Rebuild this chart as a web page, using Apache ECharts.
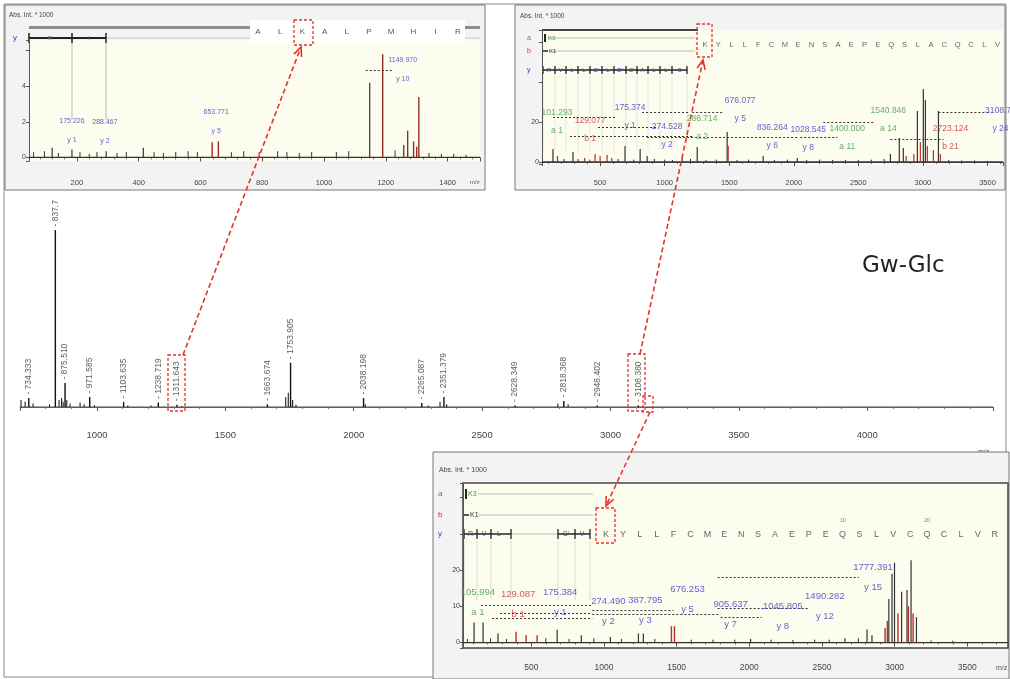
<!DOCTYPE html>
<html><head><meta charset="utf-8">
<script src="https://cdn.jsdelivr.net/npm/echarts@6/dist/echarts.min.js"></script>
<style>html,body{margin:0;padding:0;background:#fff}#c{width:1010px;height:679px}</style>
</head><body><div id="c"></div>
<script>
// ---------------- DATA ----------------
// Main MS spectrum: [m/z, relative intensity, label]
var mainLabeled = [
  [734.333, 5, '734.333'], [837.7, 100, '837.7'], [875.51, 13.5, '875.510'], [971.585, 5.6, '971.585'],
  [1103.635, 2.8, '1103.635'], [1238.719, 2.5, '1238.719'], [1311.643, 1.2, '1311.643'], [1663.674, 1.5, '1663.674'],
  [1753.905, 25, '1753.905'], [2038.198, 5, '2038.198'], [2265.087, 2.2, '2265.087'], [2351.379, 5.6, '2351.379'],
  [2628.349, 0.8, '2628.349'], [2818.368, 3.4, '2818.368'], [2948.402, 0.8, '2948.402'], [3108.38, 0.8, '3108.380']
];
var mainOther = [
  [704, 4], [720, 3], [751, 2], [815, 1.5], [852, 4], [862, 5], [868, 3], [882, 4], [895, 2], [934, 2.5],
  [950, 1.5], [990, 1], [1120, 0.8], [1210, 0.8], [1330, 0.6], [1735, 5.6], [1745, 8], [1762, 4], [1775, 1.2],
  [2045, 1.5], [2290, 0.8], [2336, 3], [2362, 1.5], [2795, 2], [2835, 1.5]
];
var mainBase = [[700, 0], [4490, 0]];

// Top-left MS/MS (ALKALPMHIR)
var tlBlack = [[120, 0.55], [184, 0.45], [295, 0.35], [415, 0.55], [1148, 4.2], [1271, 1.5]];
var tlRed = [[638, 0.85], [658, 0.9], [1190, 5.8], [1258, 0.7], [1290, 0.9], [1307, 3.4], [1300, 0.6]];
var tlNoise = [[60, 0.3], [95, 0.35], [140, 0.25], [210, 0.3], [240, 0.2], [265, 0.3], [330, 0.25], [360, 0.3],
  [450, 0.3], [480, 0.25], [520, 0.3], [560, 0.35], [590, 0.3], [700, 0.3], [740, 0.35], [790, 0.3], [850, 0.35],
  [880, 0.3], [920, 0.25], [960, 0.3], [1040, 0.3], [1080, 0.35], [1230, 0.4], [1340, 0.25], [1380, 0.2], [1420, 0.2], [1460, 0.15]];
var tlBase = [[45, 0], [1505, 0]];
// annotations: [m/z, y, value text, ion, ion type]
var tlAnnot = [[184, 1.5, '175.226', 'y 1', 'y'], [291, 1.45, '288.467', 'y 2', 'y'],
  [651, 2.0, '653.771', 'y 5', 'y'], [1255, 4.95, '1149.970', 'y 10', 'y']];
var tlDots = [[1135, 1222, 4.9]];

// Top-right MS/MS
var trBlack = [[135, 6.5], [290, 5], [693, 8], [810, 6.5], [864, 3], [1135, 2], [1252, 7.5], [1484, 15], [1763, 3],
  [2027, 2], [2748, 4], [2817, 12], [2848, 7], [2957, 25.5], [3003, 36.5], [3019, 31], [3120, 25.5]];
var trRed = [[170, 3], [380, 2], [461, 4], [500, 3], [554, 3.5], [590, 2], [1492, 8], [2870, 3], [2930, 4],
  [2980, 10], [3034, 8], [3081, 6], [3135, 4]];
var trNoise = [[220, 1.5], [330, 1.5], [420, 1.2], [640, 1.5], [760, 1.2], [920, 1.5], [1000, 1.2], [1060, 1],
  [1200, 1.5], [1320, 1], [1400, 1.2], [1560, 1], [1650, 1.2], [1850, 1], [1950, 1.2], [2100, 1], [2200, 1.2],
  [2300, 1], [2400, 1], [2500, 1], [2600, 1.2], [2700, 1.5], [3200, 1], [3300, 0.8], [3400, 0.8], [3500, 0.6]];
var trBase = [[50, 0], [3620, 0]];
var trAnnot = [[166, 20, '101.293', 'a 1', 'a'], [422, 16, '129.077', 'b 1', 'b'], [732, 22.5, '175.374', 'y 1', 'y'],
  [1019, 13, '274.528', 'y 2', 'y'], [1290, 17, '286.714', 'a 2', 'a'], [1585, 26, '676.077', 'y 5', 'y'],
  [1833, 12.5, '836.264', 'y 6', 'y'], [2112, 11.5, '1028.545', 'y 8', 'y'], [2414, 12, '1400.000', 'a 11', 'a'],
  [2732, 21, '1540.846', 'a 14', 'a'], [3213, 12, '2723.124', 'b 21', 'b'], [3600, 21, '3108.76', 'y 24', 'y']];
var trDots = [[135, 631, 22.5], [825, 1197, 25], [484, 941, 17.5], [267, 1213, 13], [864, 2027, 12.5],
  [2228, 2616, 20], [2748, 3159, 11.5], [3120, 3523, 25], [2050, 2337, 12.5], [1213, 1453, 25]];

// Bottom-right MS/MS
var brBlack = [[106, 5.5], [168, 5.5], [271, 2.5], [678, 3.5], [844, 2], [1044, 1.5], [1237, 2.5], [1271, 2.5],
  [2009, 1], [2658, 1.2], [2810, 3.6], [2844, 2], [2960, 12], [2982, 19], [2999, 22], [3048, 14], [3085, 14.5],
  [3113, 22.7], [3150, 7]];
var brRed = [[395, 3], [464, 2], [540, 2], [1464, 4.5], [1485, 4.5], [2934, 4], [2950, 6], [3023, 8], [3095, 10], [3127, 8]];
var brNoise = [[60, 1], [220, 1.2], [330, 1], [600, 1.2], [760, 1], [930, 1.2], [1120, 1], [1350, 1], [1600, 0.8],
  [1750, 0.8], [1900, 0.8], [2150, 0.8], [2300, 0.7], [2450, 0.8], [2550, 0.8], [2750, 1.2], [3250, 0.6], [3400, 0.5]];
var brBase = [[30, 0], [3780, 0]];
var brAnnot = [[133, 11, '105.994', 'a 1', 'a'], [409, 10.4, '129.087', 'b 1', 'b'], [699, 11, '175.384', 'y 1', 'y'],
  [1030, 8.5, '274.490', 'y 2', 'y'], [1285, 9, '387.795', 'y 3', 'y'], [1575, 11.8, '676.253', 'y 5', 'y'],
  [1871, 7.7, '905.637', 'y 7', 'y'], [2230, 7.1, '1045.805', 'y 8', 'y'], [2520, 10.1, '1490.282', 'y 12', 'y'],
  [2851, 18, '1777.391', 'y 15', 'y']];
var brDots = [[1782, 2754, 18], [154, 920, 10.4], [920, 1478, 9], [1782, 2416, 9.5], [285, 920, 8.2],
  [920, 1802, 7.7], [230, 920, 6.8], [1802, 2085, 7.1]];

var tlSeq = ['A', 'L', 'K', 'A', 'L', 'P', 'M', 'H', 'I', 'R'];
var trSeq = 'K Y L L F C M E N S A E P E Q S L A C Q C L V'.split(' ');
var brSeq = 'K Y L L F C M E N S A E P E Q S L V C Q C L V R'.split(' ');

// ---------------- CHART ----------------
var RED = '#e3342c', BLUE = '#3b3bc4', GREEN = '#3c9c3c', BRED = '#cc3030';
var NARROW = '"Liberation Sans Narrow","Liberation Sans",sans-serif';
var SANS = '"Liberation Sans",Arial,sans-serif';
var ionColor = {a: GREEN, b: BRED, y: BLUE};
var chart = echarts.init(document.getElementById('c'), null, {renderer: 'canvas'});

function sticks(ai, data, color, w, z) {
  return {
    type: 'custom', xAxisIndex: ai, yAxisIndex: ai, data: data, z: z, silent: true,
    encode: {x: 0, y: 1},
    renderItem: function (params, api) {
      var t = api.coord([api.value(0), api.value(1)]);
      var b = api.coord([api.value(0), 0]);
      return {type: 'line', shape: {x1: t[0], y1: b[1], x2: t[0], y2: t[1]}, style: {stroke: color, lineWidth: w}};
    }
  };
}
function base(ai, data, color, w, z) {
  return {type: 'line', xAxisIndex: ai, yAxisIndex: ai, data: data, z: z, silent: true, showSymbol: false,
    symbol: 'none', lineStyle: {color: color, width: w}};
}
function annots(ai, data, fs, lh, z) {
  var out = [];
  ['a', 'b', 'y'].forEach(function (k) {
    var d = data.filter(function (r) { return r[4] === k; });
    if (!d.length) return;
    out.push({type: 'scatter', xAxisIndex: ai, yAxisIndex: ai, data: d, z: z, silent: true, symbolSize: 1,
      itemStyle: {color: 'rgba(0,0,0,0)'},
      label: {show: true, position: 'inside', color: ionColor[k], fontSize: fs, lineHeight: lh, fontFamily: NARROW,
        formatter: function (p) { return p.data[2] + '\n' + p.data[3]; }}});
  });
  return out;
}
function dots(ai, data, z) {
  return {type: 'lines', coordinateSystem: 'cartesian2d', xAxisIndex: ai, yAxisIndex: ai, z: z, silent: true,
    data: data.map(function (d) { return {coords: [[d[0], d[2]], [d[1], d[2]]]}; }),
    lineStyle: {color: '#333', width: 1, type: [2, 2], opacity: 1}};
}
function plain(v) { return String(v); }
function xAx(gi, min, max, split, fs, margin, z) {
  return {type: 'value', gridIndex: gi, min: min, max: max, splitNumber: split, z: z,
    splitLine: {show: false},
    axisLine: {lineStyle: {color: '#555', width: 1}},
    axisTick: {length: 4, lineStyle: {color: '#555'}},
    minorTick: {show: true, splitNumber: 5, length: 2, lineStyle: {color: '#777'}},
    axisLabel: {fontSize: fs, color: '#444', margin: margin, fontFamily: SANS, showMinLabel: false, showMaxLabel: false,
      formatter: plain}};
}
function yAx(gi, min, max, split, shown, z) {
  return {type: 'value', gridIndex: gi, min: min, max: max, splitNumber: split, z: z,
    splitLine: {show: false},
    axisLine: {show: true, lineStyle: {color: '#555'}},
    axisTick: {show: true, length: 3, lineStyle: {color: '#555'}},
    axisLabel: {fontSize: 7, color: '#444', margin: 3, fontFamily: SANS,
      formatter: function (v) { return shown.indexOf(v) >= 0 ? String(v) : ''; }}};
}

var series = [
  base(0, mainBase, '#666', 1, 2),
  sticks(0, mainOther, '#222', 1.1, 3),
  sticks(0, mainLabeled, '#111', 1.4, 3),
  {type: 'scatter', xAxisIndex: 0, yAxisIndex: 0, data: mainLabeled, symbolSize: 1, z: 4, silent: true,
    itemStyle: {color: 'rgba(0,0,0,0)'},
    label: {show: true, position: 'top', distance: 3, rotate: 90, align: 'left', verticalAlign: 'middle',
      fontSize: 8.5, color: '#333', fontFamily: NARROW,
      formatter: function (p) { return '- ' + p.data[2]; }}},
  base(1, tlBase, '#333', 1.3, 155),
  sticks(1, tlNoise, '#333', 1, 156),
  sticks(1, tlBlack, '#333', 1.2, 157),
  sticks(1, tlRed, '#9c2b26', 1.4, 158),
  dots(1, tlDots, 165),
  base(2, trBase, '#333', 1.3, 155),
  sticks(2, trNoise, '#333', 1, 156),
  sticks(2, trBlack, '#333', 1.2, 157),
  sticks(2, trRed, '#b83028', 1.2, 158),
  dots(2, trDots, 165),
  base(3, brBase, '#333', 1.3, 155),
  sticks(3, brNoise, '#333', 1, 156),
  sticks(3, brBlack, '#333', 1.2, 157),
  sticks(3, brRed, '#b83028', 1.4, 158),
  dots(3, brDots, 165)
].concat(annots(1, tlAnnot, 7, 19, 170), annots(2, trAnnot, 8.5, 18, 170), annots(3, brAnnot, 9.5, 20, 170));

// ---------------- GRAPHIC DECORATION ----------------
var G = [];
function rect(x, y, w, h, fill, stroke, z, lw, dash) {
  G.push({type: 'rect', shape: {x: x, y: y, width: w, height: h}, z: z, silent: true,
    style: {fill: fill || 'none', stroke: stroke || 'none', lineWidth: lw || 1, lineDash: dash || null}});
}
function line(x1, y1, x2, y2, stroke, lw, z, dash) {
  G.push({type: 'line', shape: {x1: x1, y1: y1, x2: x2, y2: y2}, z: z, silent: true,
    style: {stroke: stroke, lineWidth: lw, lineDash: dash || null}});
}
function text(x, y, s, fs, fill, z, align, font) {
  G.push({type: 'text', x: x, y: y, z: z, silent: true,
    style: {text: s, fontSize: fs, fill: fill, fontFamily: font || SANS, align: align || 'left', verticalAlign: 'middle'}});
}
function arrow(x1, y1, x2, y2) {
  var a = Math.atan2(y2 - y1, x2 - x1), L = 10, s = 0.42;
  line(x1, y1, x2, y2, RED, 1.6, 200, [5, 3]);
  G.push({type: 'polyline', z: 200, silent: true,
    shape: {points: [[x2 - L * Math.cos(a - s), y2 - L * Math.sin(a - s)], [x2, y2], [x2 - L * Math.cos(a + s), y2 - L * Math.sin(a + s)]]},
    style: {stroke: RED, lineWidth: 1.6, fill: 'none'}});
}

// whole frame
rect(4, 4, 1002, 673, 'none', '#8a8a8a', 1, 1);
// main decorations
text(862, 266, 'Gw-Glc', 23, '#222', 5, 'left', '"DejaVu Sans",sans-serif');
text(978, 452, 'm/z', 7, '#555', 5);
rect(168, 355, 17, 56, 'none', RED, 190, 1.3, [3, 2]);
rect(628, 354, 17, 57, 'none', RED, 190, 1.3, [3, 2]);
rect(643, 396, 10, 16, 'none', RED, 190, 1.3, [3, 2]);

// ---- top-left panel ----
rect(5, 5, 480, 185, '#f3f3f3', '#777', 100, 1);
rect(29, 40, 451, 121, '#fcfcef', 'none', 101);
text(9, 15, 'Abs. Int. * 1000', 6.5, '#444', 110, 'left', NARROW);
rect(29, 26, 451, 3, '#8d8d8d', 'none', 102);
text(13, 38, 'y', 8, BLUE, 110);
line(106, 38, 480, 38, '#c8c8c8', 1, 103);
line(29, 38, 106, 38, '#222', 2, 110);
[29, 72, 106].forEach(function (x) { line(x, 33, x, 43, '#222', 1.5, 110); });
text(50, 38, 'R', 6, '#777', 111, 'center');
text(89, 38, 'I', 6, '#777', 111, 'center');
line(72, 43, 72, 120, '#aaa', 0.8, 104);
line(106, 43, 106, 120, '#aaa', 0.8, 104);
rect(250, 20, 215, 22, '#ffffff', 'none', 103);
tlSeq.forEach(function (c, i) { text(258 + i * 22.2, 32, c, 8, '#555', 111, 'center'); });
rect(294, 20, 19, 25, 'none', RED, 190, 1.3, [3, 2]);
text(470, 182, 'm/z', 6, '#555', 111);

// ---- top-right panel ----
rect(515, 5, 490, 185, '#f3f3f3', '#777', 100, 1);
rect(542, 30, 461, 134, '#fcfcef', 'none', 101);
line(542, 30, 698, 30, '#444', 2, 110);
text(520, 16, 'Abs. Int. * 1000', 6.5, '#444', 110, 'left', NARROW);
text(527, 38, 'a', 7, GREEN, 110);
text(527, 51, 'b', 7, BRED, 110);
text(527, 70, 'y', 7, BLUE, 110);
line(548, 38, 695, 38, '#bbb', 1, 103);
line(550, 51, 695, 51, '#bbb', 1, 103);
rect(544, 34, 2, 8, '#222', 'none', 110);
text(548, 38, 'K3', 6, GREEN, 111);
line(543, 51, 548, 51, '#222', 1.5, 110);
text(549, 51, 'K1', 6, '#333', 111);
var trTicks = [543, 555, 566, 578, 590, 602, 614, 626, 637, 648, 660, 672, 687];
var trYl = ['R', 'V', 'L', 'L', "C'", 'L', "D'", "C'", 'A', 'L', 'L', 'S'];
line(543, 70, 687, 70, '#222', 1.5, 110);
trTicks.forEach(function (x, i) {
  line(x, 66, x, 74, '#222', 1.3, 110);
  line(x, 75, x, 150, '#ddd', 0.7, 104);
  if (i < trYl.length) text((x + trTicks[i + 1]) / 2, 70, trYl[i], 6, BLUE, 111, 'center');
});
trSeq.forEach(function (c, i) { text(705 + i * 13.3, 45, c, 7.5, '#666', 111, 'center'); });
rect(697, 24, 15, 33, 'none', RED, 190, 1.3, [3, 2]);

// ---- bottom-right panel ----
rect(433, 452, 576, 227, '#f3f3f3', '#777', 100, 1);
rect(463, 483, 545, 165, '#fcfcef', '#444', 101, 1.5);
text(439, 470, 'Abs. Int. * 1000', 7, '#444', 110, 'left', NARROW);
text(438, 494, 'a', 8, GREEN, 110);
text(438, 515, 'b', 8, BRED, 110);
text(438, 534, 'y', 8, BLUE, 110);
line(478, 494, 593, 494, '#bbb', 1, 103);
line(478, 515, 593, 515, '#bbb', 1, 103);
rect(465, 489, 2, 10, '#222', 'none', 110);
text(468, 494, 'K3', 7, GREEN, 111);
line(464, 515, 469, 515, '#222', 1.5, 110);
text(470, 515, 'K1', 7, '#333', 111);
var brT1 = [464, 477, 491, 511], brT2 = [558, 575, 590];
line(464, 534, 511, 534, '#222', 1.5, 110);
line(558, 534, 590, 534, '#222', 1.5, 110);
line(511, 534, 558, 534, '#bbb', 1, 103);
brT1.concat(brT2).forEach(function (x) { line(x, 529, x, 539, '#222', 1.3, 110); line(x, 541, x, 600, '#ccc', 0.7, 104); });
text(470.5, 534, 'R', 7, BLUE, 111, 'center');
text(484, 534, 'V', 7, BLUE, 111, 'center');
text(499, 534, 'L', 7, BLUE, 111, 'center');
text(566, 534, "C'", 7, BLUE, 111, 'center');
text(582, 534, 'V', 7, BLUE, 111, 'center');
brSeq.forEach(function (c, i) { text(606 + i * 16.9, 535, c, 9, '#666', 111, 'center'); });
text(843, 521, '10', 5, '#777', 111, 'center');
text(927, 521, '20', 5, '#777', 111, 'center');
rect(596, 508, 19, 35, 'none', RED, 190, 1.3, [3, 2]);
text(996, 668, 'm/z', 7, '#555', 111);

// arrows
arrow(183, 355, 301, 47);
arrow(640, 354, 703, 60);
arrow(650, 412, 606, 506);

var option = {
  animation: false,
  backgroundColor: '#ffffff',
  grid: [
    {left: 20, top: 230, width: 973, height: 192},
    {left: 29, top: 40, width: 451, height: 121},
    {left: 542, top: 30, width: 461, height: 134},
    {left: 463, top: 483, width: 545, height: 165}
  ],
  xAxis: [
    xAx(0, 700, 4490, 8, 9.5, 8, 2),
    xAx(1, 45, 1505, 7, 7.5, 18, 150),
    xAx(2, 50, 3620, 7, 7.5, 15, 150),
    xAx(3, 30, 3780, 7, 8.5, 15, 150)
  ],
  yAxis: [
    {type: 'value', gridIndex: 0, min: -8.5, max: 100, show: false},
    yAx(1, -0.2, 6.6, 3, [0, 2, 4], 150),
    yAx(2, -1, 66, 3, [0, 20], 150),
    yAx(3, -1.5, 44, 4, [0, 10, 20], 150)
  ],
  series: series,
  graphic: {elements: G}
};
chart.setOption(option);
</script></body></html>
